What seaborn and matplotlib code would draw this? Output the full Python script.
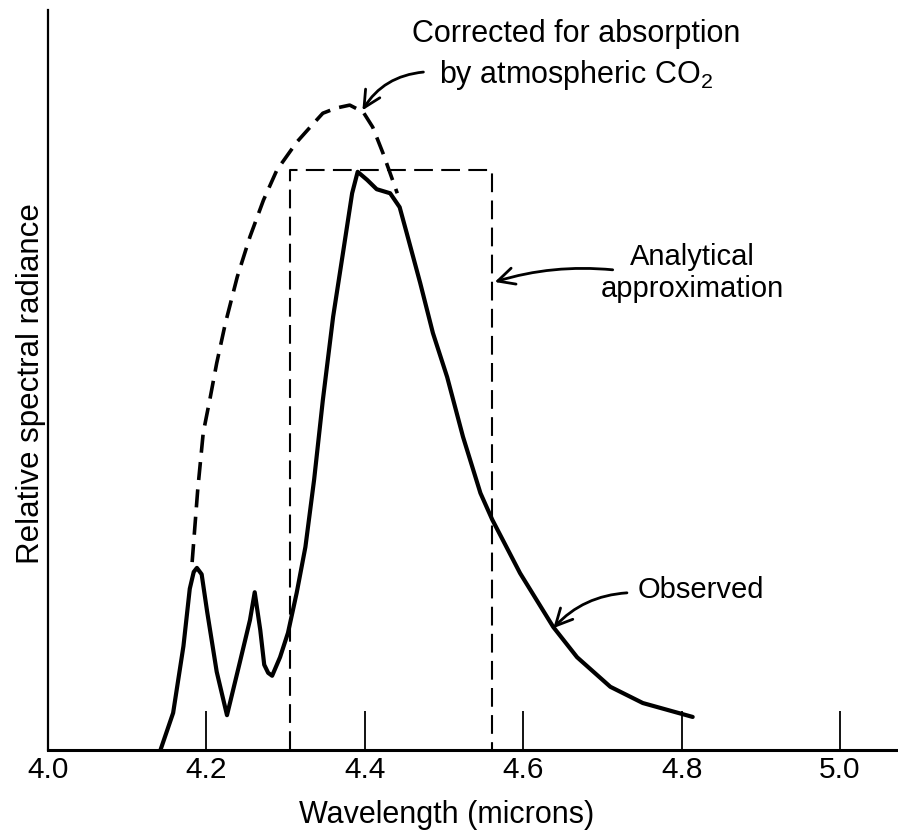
import matplotlib
matplotlib.use("Agg")
import matplotlib.pyplot as plt
import seaborn as sns

# Observed spectrum (wavelength in microns, relative radiance)
obs_wl = [4.142, 4.158, 4.171, 4.179, 4.184, 4.188, 4.194, 4.201, 4.213, 4.226,
          4.242, 4.255, 4.261, 4.268, 4.273, 4.278, 4.283, 4.293, 4.303, 4.314,
          4.325, 4.336, 4.347, 4.360, 4.373, 4.384, 4.391, 4.403, 4.415, 4.432,
          4.444, 4.453, 4.470, 4.486, 4.504, 4.524, 4.546, 4.561, 4.596, 4.638,
          4.668, 4.710, 4.751, 4.814]
obs_rad = [0.0, 0.064, 0.179, 0.278, 0.307, 0.314, 0.303, 0.238, 0.135, 0.060,
           0.150, 0.224, 0.272, 0.207, 0.147, 0.133, 0.128, 0.160, 0.202, 0.271,
           0.350, 0.466, 0.603, 0.747, 0.862, 0.960, 0.997, 0.983, 0.967, 0.960,
           0.936, 0.891, 0.805, 0.719, 0.643, 0.540, 0.443, 0.397, 0.305, 0.212,
           0.160, 0.109, 0.081, 0.057]

# Corrected for absorption by atmospheric CO2
corr_wl = [4.182, 4.189, 4.196, 4.205, 4.213, 4.224, 4.239, 4.255, 4.272,
           4.289, 4.314, 4.331, 4.347, 4.364, 4.381, 4.398, 4.410, 4.423, 4.441]
corr_rad = [0.324, 0.448, 0.547, 0.609, 0.667, 0.736, 0.816, 0.885, 0.948,
            1.000, 1.048, 1.074, 1.098, 1.107, 1.112, 1.100, 1.074, 1.029, 0.960]

# Analytical approximation (box)
box_wl = [4.305, 4.305, 4.56, 4.56]
box_rad = [0.0, 1.0, 1.0, 0.0]

tick_vals = [4.0, 4.2, 4.4, 4.6, 4.8, 5.0]
tick_labels = ['4.0', '4.2', '4.4', '4.6', '4.8', '5.0']

sns.set_theme(style="white")
plt.rcParams['font.family'] = ['Liberation Sans', 'DejaVu Sans']
plt.rcParams['mathtext.default'] = 'regular'
plt.rcParams['text.color'] = 'black'
plt.rcParams['axes.labelcolor'] = 'black'

fig = plt.figure(figsize=(8.98, 8.4), dpi=100)
ax = fig.add_axes([48 / 898, 90 / 840, 850 / 898, 740 / 840])

sns.lineplot(x=obs_wl, y=obs_rad, sort=False, estimator=None, ax=ax,
             color='black', linewidth=3.0)
ax.lines[-1].set_solid_joinstyle('round')
ax.lines[-1].set_solid_capstyle('round')
sns.lineplot(x=corr_wl, y=corr_rad, sort=False, estimator=None, ax=ax,
             color='black', linewidth=2.6)
ax.lines[-1].set_dashes((5, 2.6))
sns.lineplot(x=box_wl, y=box_rad, sort=False, estimator=None, ax=ax,
             color='black', linewidth=1.5)
ax.lines[-1].set_dashes((9, 4))

ax.set_xlim(4.0, 4.0 + 850 / 792)
ax.set_ylim(0, 1.276)

ax.set_xticks(tick_vals)
ax.set_xticklabels(tick_labels, fontsize=21.5)
ax.set_yticks([])
ax.tick_params(axis='x', direction='in', length=28, width=1.3, pad=4,
               bottom=True, color='black', labelcolor='black')

for s in ['top', 'right']:
    ax.spines[s].set_visible(False)
ax.spines['bottom'].set_linewidth(2.2)
ax.spines['left'].set_linewidth(1.6)
ax.spines['bottom'].set_color('black')
ax.spines['left'].set_color('black')

ax.set_xlabel('Wavelength (microns)', fontsize=22, va='center')
ax.xaxis.set_label_coords(0.469, -0.088)
ax.set_ylabel('Relative spectral radiance', fontsize=22.5, va='center')
ax.yaxis.set_label_coords(-0.02, 0.495)

arrow = dict(arrowstyle='->', color='black', lw=2.0, mutation_scale=30,
             shrinkA=0, shrinkB=0)

ax.text(4.667, 1.198, 'Corrected for absorption\nby atmospheric CO$_2$',
        ha='center', va='center', fontsize=22, linespacing=1.35)
ax.annotate('', xy=(4.397, 1.103), xytext=(4.474, 1.169),
            arrowprops=dict(arrow, connectionstyle='arc3,rad=0.25'))

ax.text(4.813, 0.822, 'Analytical\napproximation',
        ha='center', va='center', fontsize=21, linespacing=1.2)
ax.annotate('', xy=(4.564, 0.807), xytext=(4.713, 0.828),
            arrowprops=dict(arrow, connectionstyle='arc3,rad=0.1'))

ax.text(4.744, 0.276, 'Observed', ha='left', va='center', fontsize=21)
ax.annotate('', xy=(4.638, 0.210), xytext=(4.731, 0.271),
            arrowprops=dict(arrow, connectionstyle='arc3,rad=0.2'))

plt.savefig('out.png', dpi=100)
print("Saved: out.png")
